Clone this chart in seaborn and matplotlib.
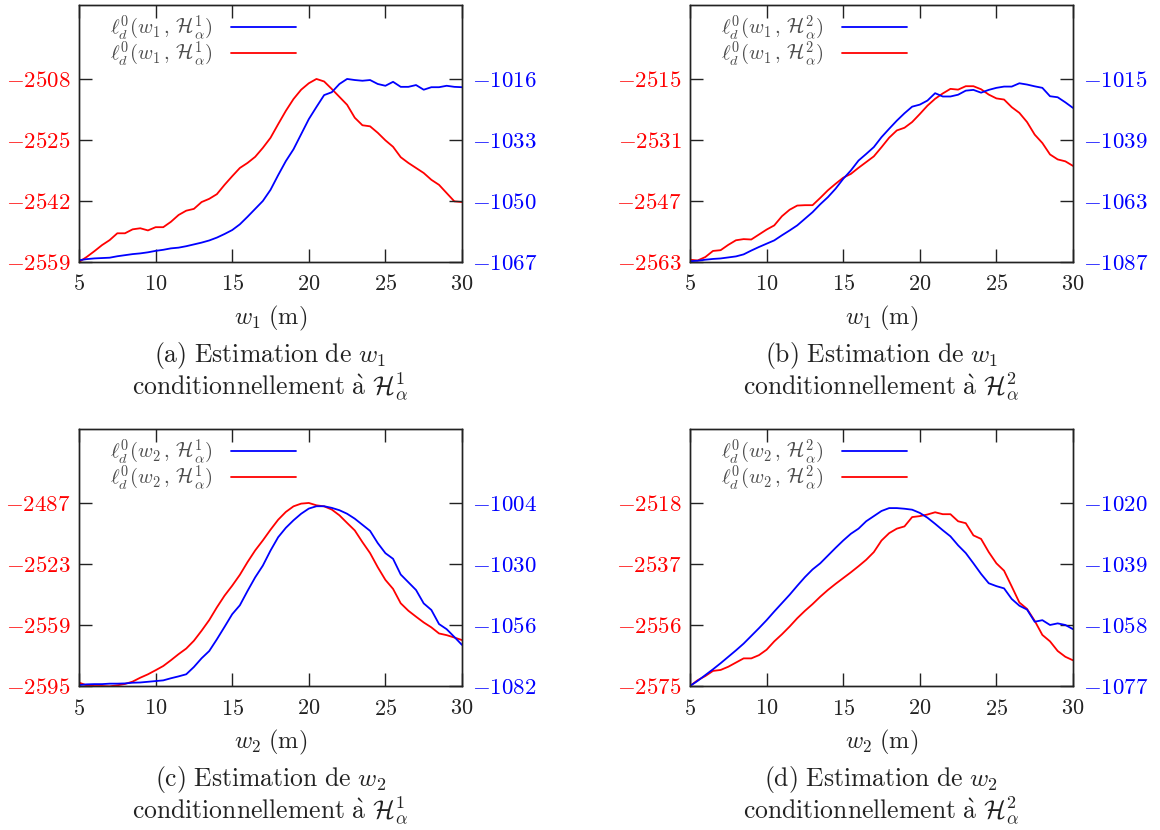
#!/usr/bin/env python3
"""Four twin-axis profile likelihood panels (w1 / w2, H^1 / H^2)."""

import matplotlib as mpl
import matplotlib.pyplot as plt
import seaborn as sns


RED = "#ff0000"
BLUE = "#0000ff"
INK = "#222222"

# grid of the estimated parameter (m)
W = [5.0, 5.5, 6.0, 6.5, 7.0, 7.5, 8.0, 8.5, 9.0, 9.5,
     10.0, 10.5, 11.0, 11.5, 12.0, 12.5, 13.0, 13.5, 14.0, 14.5,
     15.0, 15.5, 16.0, 16.5, 17.0, 17.5, 18.0, 18.5, 19.0, 19.5,
     20.0, 20.5, 21.0, 21.5, 22.0, 22.5, 23.0, 23.5, 24.0, 24.5,
     25.0, 25.5, 26.0, 26.5, 27.0, 27.5, 28.0, 28.5, 29.0, 29.5, 30.0]
X_TICKS = [5, 10, 15, 20, 25, 30]

# (a) w1 | H^1
A_RED = [-2559.0, -2557.6, -2556.0, -2554.3, -2552.9, -2551.0, -2551.0, -2549.9, -2549.6, -2550.2,
         -2549.3, -2549.3, -2547.8, -2545.9, -2544.7, -2544.2, -2542.3, -2541.4, -2540.1, -2537.5,
         -2535.1, -2532.8, -2531.4, -2529.7, -2527.2, -2524.4, -2520.6, -2516.9, -2513.6, -2511.0,
         -2509.2, -2508.0, -2508.7, -2510.8, -2513.0, -2515.2, -2518.8, -2520.9, -2521.2, -2523.0,
         -2525.1, -2526.9, -2529.8, -2531.4, -2532.8, -2534.2, -2536.1, -2537.5, -2539.8, -2542.1, -2542.3]
A_BLUE = [-1066.5, -1066.2, -1066.0, -1065.9, -1065.8, -1065.4, -1065.1, -1064.8, -1064.6, -1064.3,
          -1063.9, -1063.6, -1063.2, -1063.0, -1062.6, -1062.1, -1061.6, -1061.0, -1060.2, -1059.2,
          -1058.1, -1056.5, -1054.4, -1052.2, -1050.0, -1046.9, -1042.8, -1038.9, -1035.6, -1031.4,
          -1027.2, -1023.8, -1020.5, -1019.7, -1017.4, -1016.0, -1016.3, -1016.5, -1016.3, -1017.4,
          -1017.9, -1016.8, -1018.2, -1018.2, -1017.7, -1019.0, -1018.3, -1018.3, -1017.9, -1018.2, -1018.3]
A_LEFT_TICKS = [-2559, -2542, -2525, -2508]
A_RIGHT_TICKS = [-1067, -1050, -1033, -1016]

# (b) w1 | H^2
B_RED = [-2562.4, -2562.6, -2561.7, -2560.1, -2559.9, -2558.5, -2557.3, -2557.0, -2557.1, -2555.8,
         -2554.5, -2553.4, -2551.0, -2549.3, -2548.2, -2548.1, -2548.1, -2546.2, -2544.2, -2542.5,
         -2540.9, -2539.9, -2538.3, -2536.8, -2535.3, -2532.9, -2530.4, -2528.5, -2527.8, -2526.3,
         -2524.2, -2522.0, -2520.2, -2518.8, -2517.6, -2517.8, -2516.9, -2516.9, -2517.7, -2519.1,
         -2520.1, -2520.4, -2522.4, -2523.9, -2526.3, -2529.6, -2531.8, -2534.8, -2536.1, -2536.6, -2537.8]
B_BLUE = [-1086.7, -1086.5, -1086.1, -1085.8, -1085.6, -1085.2, -1084.8, -1084.0, -1082.5, -1081.1,
          -1079.8, -1078.5, -1076.5, -1074.6, -1072.6, -1070.0, -1067.4, -1064.3, -1061.5, -1058.2,
          -1054.3, -1051.0, -1047.1, -1044.5, -1041.8, -1037.9, -1034.6, -1031.4, -1028.5, -1025.9,
          -1025.1, -1023.5, -1020.6, -1021.9, -1021.9, -1021.2, -1019.6, -1019.3, -1020.4, -1019.3,
          -1018.5, -1018.0, -1018.0, -1016.7, -1017.2, -1017.9, -1018.5, -1021.8, -1022.2, -1024.2, -1026.4]
B_LEFT_TICKS = [-2563, -2547, -2531, -2515]
B_RIGHT_TICKS = [-1087, -1063, -1039, -1015]

# (c) w2 | H^1
C_RED = [-2593.0, -2594.6, -2595.0, -2595.0, -2595.2, -2594.6, -2593.8, -2592.4, -2590.1, -2588.1,
         -2585.7, -2583.2, -2579.8, -2576.2, -2572.9, -2568.3, -2562.4, -2556.1, -2548.6, -2541.7,
         -2535.8, -2529.4, -2521.9, -2515.0, -2509.1, -2502.8, -2496.9, -2492.3, -2489.0, -2487.4,
         -2487.0, -2488.4, -2489.0, -2490.9, -2494.3, -2498.8, -2503.2, -2510.1, -2516.6, -2524.9,
         -2532.4, -2537.7, -2546.2, -2550.6, -2554.1, -2557.5, -2560.4, -2564.0, -2565.0, -2566.4, -2567.9]
C_BLUE = [-1081.6, -1081.3, -1081.2, -1081.2, -1081.0, -1081.0, -1080.9, -1080.6, -1080.5, -1080.2,
          -1079.9, -1079.6, -1078.7, -1077.9, -1077.0, -1073.9, -1070.2, -1067.1, -1062.1, -1056.8,
          -1051.4, -1047.6, -1041.5, -1035.7, -1030.7, -1024.3, -1018.6, -1014.6, -1011.4, -1008.6,
          -1006.4, -1005.4, -1005.4, -1006.1, -1007.1, -1008.6, -1010.7, -1013.3, -1015.9, -1021.1,
          -1025.4, -1027.8, -1034.5, -1037.8, -1041.1, -1046.8, -1049.6, -1055.6, -1057.8, -1061.1, -1064.5]
C_LEFT_TICKS = [-2595, -2559, -2523, -2487]
C_RIGHT_TICKS = [-1082, -1056, -1030, -1004]

# (d) w2 | H^2
D_RED = [-2575.0, -2573.2, -2571.9, -2570.3, -2570.0, -2569.0, -2567.7, -2566.4, -2566.4, -2565.4,
         -2563.7, -2561.1, -2558.9, -2556.5, -2553.9, -2551.6, -2549.5, -2547.2, -2545.1, -2543.2,
         -2541.4, -2539.6, -2537.7, -2535.7, -2533.3, -2529.7, -2527.4, -2526.0, -2525.3, -2522.4,
         -2522.1, -2521.6, -2520.9, -2521.5, -2521.5, -2523.7, -2524.3, -2528.1, -2529.2, -2533.3,
         -2536.8, -2539.1, -2544.0, -2549.0, -2551.0, -2554.7, -2559.1, -2561.1, -2564.1, -2565.9, -2567.0]
D_BLUE = [-1077.0, -1075.4, -1073.6, -1071.8, -1069.9, -1067.9, -1065.9, -1063.8, -1061.4, -1059.0,
          -1056.5, -1053.8, -1051.2, -1048.6, -1045.8, -1043.1, -1040.7, -1038.8, -1036.4, -1034.0,
          -1031.7, -1029.6, -1028.0, -1025.7, -1024.1, -1022.5, -1021.6, -1021.6, -1021.8, -1022.1,
          -1023.1, -1024.6, -1026.5, -1028.5, -1030.4, -1033.2, -1035.6, -1038.8, -1042.1, -1045.0,
          -1045.9, -1046.6, -1049.9, -1052.0, -1053.2, -1057.0, -1056.5, -1058.0, -1057.5, -1058.0, -1059.3]
D_LEFT_TICKS = [-2575, -2556, -2537, -2518]
D_RIGHT_TICKS = [-1077, -1058, -1039, -1020]

# axis height relative to the span covered by the four ticks
TOP_RATIO = 1.404


def setup_style():
    sns.set_style("ticks")
    mpl.rcParams.update(
        {
            "font.family": ["cmr10", "DejaVu Serif"],
            "mathtext.fontset": "cm",
            "axes.formatter.use_mathtext": True,
            "axes.linewidth": 1.0,
            "axes.edgecolor": INK,
        }
    )


def set_ylim_from_ticks(ax, ticks):
    lo, hi = ticks[0], ticks[-1]
    ax.set_ylim(lo, lo + (hi - lo) * TOP_RATIO)


def draw_panel(ax, red, blue, left_ticks, right_ticks, var, hyp, letter):
    ax2 = ax.twinx()
    sns.lineplot(x=W, y=red, ax=ax, color=RED, linewidth=1.3)
    sns.lineplot(x=W, y=blue, ax=ax2, color=BLUE, linewidth=1.3)

    ax.set_xlim(W[0], W[-1])
    set_ylim_from_ticks(ax, left_ticks)
    set_ylim_from_ticks(ax2, right_ticks)

    ax.set_xticks(X_TICKS, [f"${t}$" for t in X_TICKS])
    ax.set_yticks(left_ticks, [f"${t}$" for t in left_ticks])
    ax2.set_yticks(right_ticks, [f"${t}$" for t in right_ticks])

    ax.tick_params(axis="x", direction="in", length=9.5, width=1.0, color=INK,
                   top=True, bottom=True, labelsize=16, pad=9, labelcolor=INK)
    ax.tick_params(axis="y", direction="in", length=9.5, width=1.0, color=INK,
                   left=True, right=False, labelsize=16.5, labelcolor=RED, pad=6)
    ax2.tick_params(axis="y", direction="in", length=9.5, width=1.0, color=INK,
                    right=True, left=False, labelsize=16.5, labelcolor=BLUE, pad=7)
    for spine in ax2.spines.values():
        spine.set_visible(True)
        spine.set_color(INK)

    ax.set_ylabel("")
    ax2.set_ylabel("")
    ax.set_xlabel(rf"$w_{var}\ \mathrm{{(m)}}$", fontsize=17.5, color=INK, labelpad=7)

    label = rf"$\ell^0_d(w_{var}\,,\,\mathcal{{H}}^{hyp}_\alpha)$"
    h_blue = mpl.lines.Line2D([], [], color=BLUE, linewidth=1.3)
    h_red = mpl.lines.Line2D([], [], color=RED, linewidth=1.3)
    leg = ax2.legend(
        [h_blue, h_red],
        [label, label],
        loc="upper left",
        bbox_to_anchor=(0.08, 0.966),
        frameon=False,
        markerfirst=False,
        fontsize=14.8,
        handlelength=3.15,
        handletextpad=0.9,
        labelspacing=-0.12,
        borderpad=0,
        borderaxespad=0,
    )
    for txt in leg.get_texts():
        txt.set_color("#4d4d4d")

    line1 = rf"$\mathrm{{({letter})\ Estimation\ de\ }}w_{var}$"
    line2 = rf"$\mathrm{{conditionnellement\ \grave{{a}}\ }}\mathcal{{H}}^{hyp}_\alpha$"
    ax.text(0.5, -0.362, line1, transform=ax.transAxes, ha="center", va="center",
            fontsize=18.5, color=INK)
    ax.text(0.5, -0.486, line2, transform=ax.transAxes, ha="center", va="center",
            fontsize=18.5, color=INK)


def main():
    setup_style()
    fig = plt.figure(figsize=(11.6, 8.3), dpi=100)

    w, h = 383 / 1160, 257 / 830
    axes = [
        fig.add_axes([79 / 1160, 1 - 262 / 830, w, h]),
        fig.add_axes([690 / 1160, 1 - 262 / 830, w, h]),
        fig.add_axes([79 / 1160, 1 - 686 / 830, w, h]),
        fig.add_axes([690 / 1160, 1 - 686 / 830, w, h]),
    ]

    draw_panel(axes[0], A_RED, A_BLUE, A_LEFT_TICKS, A_RIGHT_TICKS, 1, 1, "a")
    draw_panel(axes[1], B_RED, B_BLUE, B_LEFT_TICKS, B_RIGHT_TICKS, 1, 2, "b")
    draw_panel(axes[2], C_RED, C_BLUE, C_LEFT_TICKS, C_RIGHT_TICKS, 2, 1, "c")
    draw_panel(axes[3], D_RED, D_BLUE, D_LEFT_TICKS, D_RIGHT_TICKS, 2, 2, "d")

    fig.savefig("out.png", dpi=100, facecolor="white")
    plt.close(fig)


if __name__ == "__main__":
    main()
